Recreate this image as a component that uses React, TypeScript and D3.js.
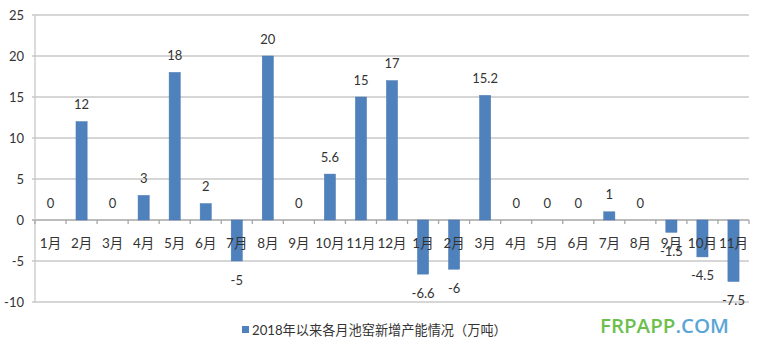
import React from "react";
import * as d3 from "d3";

const categories = ["1月","2月","3月","4月","5月","6月","7月","8月","9月","10月","11月","12月","1月","2月","3月","4月","5月","6月","7月","8月","9月","10月","11月"];
const values = [0,12,0,3,18,2,-5,20,0,5.6,15,17,-6.6,-6,15.2,0,0,0,1,0,-1.5,-4.5,-7.5];
const yTicks = [-10,-5,0,5,10,15,20,25];
const seriesName = "2018年以来各月池窑新增产能情况（万吨）";

const W = 758, H = 350;
const left = 35, right = 749, top = 15, bottom = 302;
const font = "Lato, 'Noto Sans CJK SC', sans-serif";

export default function App() {
  const x = d3.scaleBand<number>().domain(d3.range(categories.length)).range([left, right]).paddingInner(0.64).paddingOuter(0.32);
  const band = d3.scaleBand<number>().domain(d3.range(categories.length)).range([left, right]);
  const y = d3.scaleLinear().domain([-10, 25]).range([bottom, top]);
  const y0 = y(0);
  return (
    <svg width={W} height={H} style={{ position: "absolute", left: 0, top: 0, background: "#fff" }}>
      {yTicks.map((t) => (
        <g key={t}>
          <line x1={left - 3} x2={right} y1={y(t)} y2={y(t)} stroke={t === 0 ? "#a6a6a6" : "#c8c8c8"} strokeWidth={1.3} />
          <text x={24} y={y(t)} dy="0.35em" textAnchor="end" fontFamily={font} fontSize={13} fill="#333">{t}</text>
        </g>
      ))}
      <line x1={left} x2={left} y1={top} y2={bottom} stroke="#c8c8c8" strokeWidth={1.3} />
      {d3.range(categories.length + 1).map((i) => {
        const xx = i < categories.length ? band(i)! : right;
        return <line key={"t" + i} x1={xx} x2={xx} y1={y0} y2={y0 + 4} stroke="#a6a6a6" strokeWidth={1.3} />;
      })}
      {values.map((v, i) => (
        <rect key={"b" + i} x={x(i)!} width={x.bandwidth()} y={Math.min(y(v), y0)} height={Math.abs(y(v) - y0)} fill="#4f81bd" stroke="#4a7ab3" strokeWidth={0.5} />
      ))}
      {categories.map((c, i) => (
        <text key={"c" + i} x={band(i)! + band.bandwidth() / 2} y={243} dy="0.35em" textAnchor="middle" fontFamily={font} fontSize={13.5} fill="#333">{c}</text>
      ))}
      {values.map((v, i) => (
        <text key={"l" + i} x={band(i)! + band.bandwidth() / 2} y={v >= 0 ? y(v) - 17 : y(v) + 19} dy="0.35em" textAnchor="middle" fontFamily={font} fontSize={13} fill="#333">{v}</text>
      ))}
      <rect x={242} y={326} width={7} height={7} fill="#4f81bd" />
      <text x={252} y={330} dy="0.35em" fontFamily={font} fontSize={13.2} fill="#333">{seriesName}</text>
      <text x={600} y={326} dy="0.35em" fontFamily="'Open Sans', sans-serif" fontSize={20.5} fontWeight={600}>
        <tspan fill="#6cbf4e">FRPAPP</tspan><tspan fill="#5aa5d6">.COM</tspan>
      </text>
    </svg>
  );
}
